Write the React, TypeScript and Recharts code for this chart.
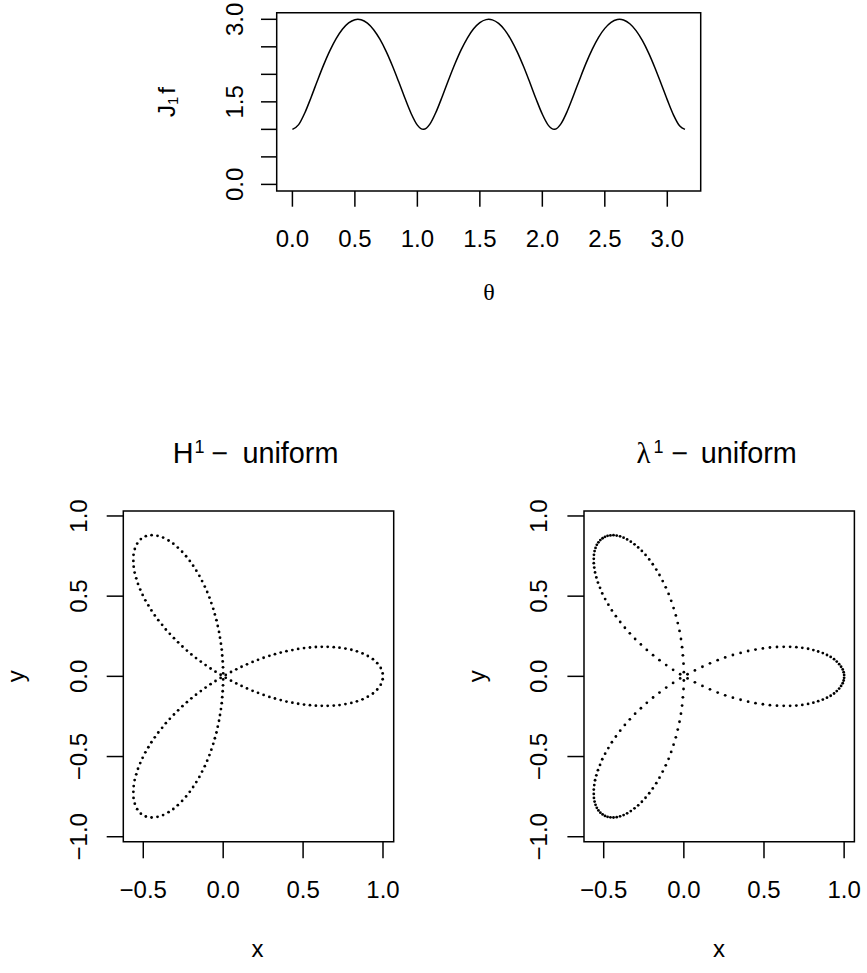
import { Line, LineChart, ReferenceArea, Scatter, ScatterChart, XAxis, YAxis } from "recharts";

const SANS = "'Liberation Sans', Arial, Helvetica, sans-serif";
const SERIF = "'Liberation Serif', 'DejaVu Serif', serif";

// top panel: J1 f against theta
const theta = [
    0, 0.05, 0.1, 0.15, 0.2, 0.25, 0.3, 0.35, 0.4, 0.45, 0.5, 0.5236,
    0.55, 0.6, 0.65, 0.7, 0.75, 0.8, 0.85, 0.9, 0.95, 1.0, 1.0472,
    1.05, 1.1, 1.15, 1.2, 1.25, 1.3, 1.35, 1.4, 1.45, 1.5, 1.55, 1.5708,
    1.6, 1.65, 1.7, 1.75, 1.8, 1.85, 1.9, 1.95, 2.0, 2.05, 2.0944,
    2.1, 2.15, 2.2, 2.25, 2.3, 2.35, 2.4, 2.45, 2.5, 2.55, 2.6, 2.618,
    2.65, 2.7, 2.75, 2.8, 2.85, 2.9, 2.95, 3.0, 3.05, 3.1, 3.1416,
];
const j1f = [
    1.000, 1.086, 1.303, 1.585, 1.884, 2.172, 2.431, 2.649, 2.820, 2.935, 2.993, 3.000,
    2.992, 2.930, 2.811, 2.638, 2.417, 2.156, 1.868, 1.569, 1.289, 1.077, 1.000,
    1.000, 1.095, 1.318, 1.602, 1.901, 2.187, 2.444, 2.660, 2.827, 2.940, 2.994, 3.000,
    2.990, 2.925, 2.803, 2.627, 2.404, 2.141, 1.851, 1.552, 1.275, 1.068, 1.000,
    1.001, 1.105, 1.333, 1.619, 1.917, 2.203, 2.458, 2.672, 2.835, 2.945, 2.996, 3.000,
    2.988, 2.920, 2.795, 2.616, 2.390, 2.125, 1.834, 1.536, 1.260, 1.060, 1.000,
];
const thetaTicks = [0, 0.5, 1.0, 1.5, 2.0, 2.5, 3.0];
const jTicks = [0, 0.5, 1.0, 1.5, 2.0, 2.5, 3.0];
const jTickLabels = [0, 1.5, 3.0];

// bottom panels: sampled points of the three-leaved rose
const xyTicksX = [-0.5, 0, 0.5, 1.0];
const xyTicksY = [-1.0, -0.5, 0, 0.5, 1.0];

const hRightPetal = [
    [0.998, 0.018], [0.998, -0.018], [0.986, 0.052], [0.986, -0.052],
    [0.964, 0.082], [0.964, -0.082], [0.937, 0.107], [0.937, -0.107],
    [0.905, 0.127], [0.905, -0.127], [0.872, 0.143], [0.872, -0.143],
    [0.837, 0.156], [0.837, -0.156], [0.802, 0.166], [0.802, -0.166],
    [0.765, 0.173], [0.765, -0.173], [0.728, 0.179], [0.728, -0.179],
    [0.692, 0.182], [0.692, -0.182], [0.654, 0.184], [0.654, -0.184],
    [0.617, 0.184], [0.617, -0.184], [0.580, 0.183], [0.580, -0.183],
    [0.543, 0.180], [0.543, -0.180], [0.506, 0.176], [0.506, -0.176],
    [0.469, 0.171], [0.469, -0.171], [0.433, 0.164], [0.433, -0.164],
    [0.396, 0.157], [0.396, -0.157], [0.360, 0.148], [0.360, -0.148],
    [0.324, 0.138], [0.324, -0.138], [0.289, 0.128], [0.289, -0.128],
    [0.253, 0.116], [0.253, -0.116], [0.218, 0.103], [0.218, -0.103],
    [0.184, 0.090], [0.184, -0.090], [0.149, 0.075], [0.149, -0.075],
    [0.115, 0.060], [0.115, -0.060], [0.082, 0.044], [0.082, -0.044],
    [0.049, 0.027], [0.049, -0.027], [0.016, 0.009], [0.016, -0.009],
];
const hUpperPetal = [
    [-0.515, 0.856], [-0.484, 0.874], [-0.538, 0.828], [-0.448, 0.880],
    [-0.553, 0.794], [-0.411, 0.876], [-0.561, 0.758], [-0.376, 0.865],
    [-0.562, 0.720], [-0.342, 0.847], [-0.560, 0.684], [-0.312, 0.827],
    [-0.554, 0.647], [-0.284, 0.803], [-0.544, 0.611], [-0.257, 0.777],
    [-0.533, 0.576], [-0.232, 0.749], [-0.519, 0.541], [-0.209, 0.720],
    [-0.504, 0.508], [-0.188, 0.690], [-0.487, 0.474], [-0.168, 0.659],
    [-0.468, 0.442], [-0.149, 0.627], [-0.449, 0.411], [-0.132, 0.594],
    [-0.428, 0.380], [-0.115, 0.560], [-0.406, 0.350], [-0.100, 0.526],
    [-0.382, 0.321], [-0.086, 0.491], [-0.359, 0.292], [-0.074, 0.457],
    [-0.334, 0.265], [-0.062, 0.421], [-0.308, 0.238], [-0.052, 0.386],
    [-0.282, 0.212], [-0.042, 0.350], [-0.255, 0.186], [-0.034, 0.314],
    [-0.227, 0.161], [-0.026, 0.277], [-0.199, 0.137], [-0.020, 0.241],
    [-0.170, 0.114], [-0.014, 0.204], [-0.140, 0.092], [-0.009, 0.167],
    [-0.110, 0.070], [-0.006, 0.130], [-0.079, 0.049], [-0.003, 0.093],
    [-0.048, 0.029], [-0.001, 0.056], [-0.016, 0.010], [0.000, 0.019],
];
const hLowerPetal = [
    [-0.484, -0.874], [-0.515, -0.856], [-0.448, -0.880], [-0.538, -0.828],
    [-0.411, -0.876], [-0.553, -0.794], [-0.376, -0.865], [-0.561, -0.758],
    [-0.342, -0.847], [-0.562, -0.720], [-0.312, -0.827], [-0.560, -0.684],
    [-0.284, -0.803], [-0.554, -0.647], [-0.257, -0.777], [-0.544, -0.611],
    [-0.232, -0.749], [-0.533, -0.576], [-0.209, -0.720], [-0.519, -0.541],
    [-0.188, -0.690], [-0.504, -0.508], [-0.168, -0.659], [-0.487, -0.474],
    [-0.149, -0.627], [-0.468, -0.442], [-0.132, -0.594], [-0.449, -0.411],
    [-0.115, -0.560], [-0.428, -0.380], [-0.100, -0.526], [-0.406, -0.350],
    [-0.086, -0.491], [-0.382, -0.321], [-0.074, -0.457], [-0.359, -0.292],
    [-0.062, -0.421], [-0.334, -0.265], [-0.052, -0.386], [-0.308, -0.238],
    [-0.042, -0.350], [-0.282, -0.212], [-0.034, -0.314], [-0.255, -0.186],
    [-0.026, -0.277], [-0.227, -0.161], [-0.020, -0.241], [-0.199, -0.137],
    [-0.014, -0.204], [-0.170, -0.114], [-0.009, -0.167], [-0.140, -0.092],
    [-0.006, -0.130], [-0.110, -0.070], [-0.003, -0.093], [-0.079, -0.049],
    [-0.001, -0.056], [-0.048, -0.029], [0.000, -0.019], [-0.016, -0.010],
];

const lambdaRightPetal = [
    [1.000, 0.009], [1.000, -0.009], [0.997, 0.026], [0.997, -0.026],
    [0.991, 0.043], [0.991, -0.043], [0.981, 0.060], [0.981, -0.060],
    [0.969, 0.076], [0.969, -0.076], [0.954, 0.092], [0.954, -0.092],
    [0.937, 0.107], [0.937, -0.107], [0.916, 0.121], [0.916, -0.121],
    [0.893, 0.133], [0.893, -0.133], [0.867, 0.145], [0.867, -0.145],
    [0.838, 0.155], [0.838, -0.155], [0.808, 0.164], [0.808, -0.164],
    [0.775, 0.172], [0.775, -0.172], [0.739, 0.178], [0.739, -0.178],
    [0.702, 0.182], [0.702, -0.182], [0.663, 0.184], [0.663, -0.184],
    [0.623, 0.184], [0.623, -0.184], [0.581, 0.183], [0.581, -0.183],
    [0.537, 0.180], [0.537, -0.180], [0.493, 0.174], [0.493, -0.174],
    [0.447, 0.167], [0.447, -0.167], [0.401, 0.158], [0.401, -0.158],
    [0.354, 0.146], [0.354, -0.146], [0.306, 0.133], [0.306, -0.133],
    [0.258, 0.118], [0.258, -0.118], [0.211, 0.101], [0.211, -0.101],
    [0.163, 0.081], [0.163, -0.081], [0.116, 0.060], [0.116, -0.060],
    [0.069, 0.037], [0.069, -0.037], [0.023, 0.013], [0.023, -0.013],
];
const lambdaUpperPetal = [
    [-0.507, 0.861], [-0.492, 0.870], [-0.521, 0.850], [-0.476, 0.876],
    [-0.533, 0.836], [-0.458, 0.879], [-0.543, 0.820], [-0.439, 0.880],
    [-0.551, 0.801], [-0.419, 0.878], [-0.557, 0.781], [-0.398, 0.873],
    [-0.561, 0.758], [-0.376, 0.865], [-0.562, 0.733], [-0.354, 0.854],
    [-0.562, 0.706], [-0.331, 0.840], [-0.559, 0.678], [-0.308, 0.823],
    [-0.554, 0.648], [-0.285, 0.804], [-0.546, 0.617], [-0.262, 0.782],
    [-0.536, 0.585], [-0.239, 0.757], [-0.523, 0.552], [-0.216, 0.729],
    [-0.509, 0.517], [-0.194, 0.699], [-0.491, 0.482], [-0.172, 0.666],
    [-0.471, 0.447], [-0.152, 0.632], [-0.449, 0.411], [-0.132, 0.594],
    [-0.424, 0.375], [-0.113, 0.555], [-0.397, 0.339], [-0.095, 0.514],
    [-0.368, 0.303], [-0.079, 0.471], [-0.337, 0.268], [-0.064, 0.426],
    [-0.304, 0.233], [-0.050, 0.380], [-0.268, 0.199], [-0.038, 0.332],
    [-0.231, 0.165], [-0.027, 0.283], [-0.192, 0.132], [-0.018, 0.233],
    [-0.152, 0.101], [-0.011, 0.182], [-0.110, 0.070], [-0.006, 0.131],
    [-0.067, 0.041], [-0.002, 0.079], [-0.023, 0.013], [0.000, 0.026],
];
const lambdaLowerPetal = [
    [-0.492, -0.870], [-0.507, -0.861], [-0.476, -0.876], [-0.521, -0.850],
    [-0.458, -0.879], [-0.533, -0.836], [-0.439, -0.880], [-0.543, -0.820],
    [-0.419, -0.878], [-0.551, -0.801], [-0.398, -0.873], [-0.557, -0.781],
    [-0.376, -0.865], [-0.561, -0.758], [-0.354, -0.854], [-0.562, -0.733],
    [-0.331, -0.840], [-0.562, -0.706], [-0.308, -0.823], [-0.559, -0.678],
    [-0.285, -0.804], [-0.554, -0.648], [-0.262, -0.782], [-0.546, -0.617],
    [-0.239, -0.757], [-0.536, -0.585], [-0.216, -0.729], [-0.523, -0.552],
    [-0.194, -0.699], [-0.509, -0.517], [-0.172, -0.666], [-0.491, -0.482],
    [-0.152, -0.632], [-0.471, -0.447], [-0.132, -0.594], [-0.449, -0.411],
    [-0.113, -0.555], [-0.424, -0.375], [-0.095, -0.514], [-0.397, -0.339],
    [-0.079, -0.471], [-0.368, -0.303], [-0.064, -0.426], [-0.337, -0.268],
    [-0.050, -0.380], [-0.304, -0.233], [-0.038, -0.332], [-0.268, -0.199],
    [-0.027, -0.283], [-0.231, -0.165], [-0.018, -0.233], [-0.192, -0.132],
    [-0.011, -0.182], [-0.152, -0.101], [-0.006, -0.131], [-0.110, -0.070],
    [-0.002, -0.079], [-0.067, -0.041], [0.000, -0.026], [-0.023, -0.013],
];

const fmt = (v: number) => (v < 0 ? "\u2212" : "") + Math.abs(v).toFixed(1);

const BottomTick = ({ x, y, payload }: any) => (
    <text x={x} y={y + 40} textAnchor="middle" fontFamily={SANS} fontSize={24} fill="#000">
        {fmt(payload.value)}
    </text>
);

const LeftTick = ({ x, y, payload, gap, shown }: any) => {
    if (shown && !shown.includes(payload.value)) return <g />;
    const bx = x - gap;
    return (
        <text x={bx} y={y} transform={`rotate(-90, ${bx}, ${y})`} textAnchor="middle"
            fontFamily={SANS} fontSize={24} fill="#000">
            {fmt(payload.value)}
        </text>
    );
};

const Dot = (props: any) => <circle cx={props.cx} cy={props.cy} r={1.4} fill="#000" />;

const tickStyle = { stroke: "#000", strokeWidth: 1.5 };

function RosePanel({ petals, xDomain, yWidth, right }: {
    petals: number[][][], xDomain: [number, number], yWidth: number, right: number
}) {
    const yDomain: [number, number] = [-1.031, 1.031];
    const data = petals.flat().map(([x, y]) => ({ x, y }));
    return (
        <ScatterChart width={yWidth + 270.4 + right} height={493}
            margin={{ top: 31, right: right, bottom: 0, left: 0 }}>
            <XAxis type="number" dataKey="x" domain={xDomain} allowDataOverflow ticks={xyTicksX}
                interval={0} height={131.3} axisLine={false} tickSize={16.6} tickMargin={0}
                tickLine={tickStyle} tick={(p: any) => <BottomTick {...p} />} />
            <YAxis type="number" dataKey="y" domain={yDomain} allowDataOverflow ticks={xyTicksY}
                interval={0} width={yWidth} axisLine={false} tickSize={16.6} tickMargin={0}
                tickLine={tickStyle} tick={(p: any) => <LeftTick {...p} gap={20} />} />
            <ReferenceArea x1={xDomain[0]} x2={xDomain[1]} y1={yDomain[0]} y2={yDomain[1]}
                fill="none" fillOpacity={0} stroke="#000" strokeWidth={1.5} ifOverflow="visible" />
            <Scatter data={data} fill="#000" shape={Dot} isAnimationActive={false} />
        </ScatterChart>
    );
}

export default function App() {
    const lineData = theta.map((t, i) => ({ theta: t, j: j1f[i] }));
    const tDomain: [number, number] = [-0.1257, 3.2673];
    const jDomain: [number, number] = [-0.12, 3.12];
    return (
        <div style={{ position: "absolute", left: 0, top: 0, width: 867, height: 973, background: "#fff" }}>
            <div style={{ position: "absolute", left: 0, top: 0 }}>
                <LineChart width={867} height={330} data={lineData}
                    margin={{ top: 12.7, right: 166.3, bottom: 0, left: 0 }}>
                    <XAxis type="number" dataKey="theta" domain={tDomain} allowDataOverflow ticks={thetaTicks}
                        interval={0} height={139} axisLine={false} tickSize={15.7} tickMargin={0}
                        tickLine={tickStyle} tick={(p: any) => <BottomTick {...p} />} />
                    <YAxis type="number" domain={jDomain} allowDataOverflow ticks={jTicks}
                        interval={0} width={276.7} axisLine={false} tickSize={15.7} tickMargin={0}
                        tickLine={tickStyle}
                        tick={(p: any) => <LeftTick {...p} gap={18} shown={jTickLabels} />} />
                    <ReferenceArea x1={tDomain[0]} x2={tDomain[1]} y1={jDomain[0]} y2={jDomain[1]}
                        fill="none" fillOpacity={0} stroke="#000" strokeWidth={1.5} ifOverflow="visible" />
                    <Line type="monotone" dataKey="j" stroke="#000" strokeWidth={1.5} dot={false}
                        isAnimationActive={false} />
                </LineChart>
            </div>
            <div style={{ position: "absolute", left: 0, top: 480 }}>
                <RosePanel petals={[hRightPetal, hUpperPetal, hLowerPetal]} xDomain={[-0.625, 1.067]}
                    yWidth={123.3} right={36.3} />
            </div>
            <div style={{ position: "absolute", left: 430, top: 480 }}>
                <RosePanel petals={[lambdaRightPetal, lambdaUpperPetal, lambdaLowerPetal]}
                    xDomain={[-0.623, 1.064]} yWidth={154} right={12.7} />
            </div>
            <svg width={867} height={973} style={{ position: "absolute", left: 0, top: 0, pointerEvents: "none" }}>
                <g fill="#000">
                    <text x={489} y={300} textAnchor="middle" fontFamily={SERIF} fontSize={24}>θ</text>
                    <text x={175} y={102} transform="rotate(-90, 175, 102)" textAnchor="middle"
                        fontFamily={SANS} fontSize={24}>
                        J<tspan dy={3} fontSize={15}>1</tspan><tspan dy={-3} dx={3}>f</tspan>
                    </text>
                    <text y={463} fontFamily={SANS} fontSize={28.8}>
                        <tspan x={172.7}>H</tspan>
                        <tspan x={194.5} dy={-10} fontSize={18}>1</tspan>
                        <tspan x={211.6} dy={10}>{"\u2212"}</tspan>
                        <tspan x={242.4}>uniform</tspan>
                    </text>
                    <text y={463} fontFamily={SANS} fontSize={28.8}>
                        <tspan x={636.5} fontFamily={SERIF}>λ</tspan>
                        <tspan x={653.5} dy={-10} fontSize={18}>1</tspan>
                        <tspan x={671.6} dy={10}>{"\u2212"}</tspan>
                        <tspan x={700.8}>uniform</tspan>
                    </text>
                    <text x={257.5} y={957} textAnchor="middle" fontFamily={SANS} fontSize={24}>x</text>
                    <text x={719} y={957} textAnchor="middle" fontFamily={SANS} fontSize={24}>x</text>
                    <text x={24.5} y={676.3} transform="rotate(-90, 24.5, 676.3)" textAnchor="middle"
                        fontFamily={SANS} fontSize={24}>y</text>
                    <text x={485} y={676.3} transform="rotate(-90, 485, 676.3)" textAnchor="middle"
                        fontFamily={SANS} fontSize={24}>y</text>
                </g>
            </svg>
        </div>
    );
}
